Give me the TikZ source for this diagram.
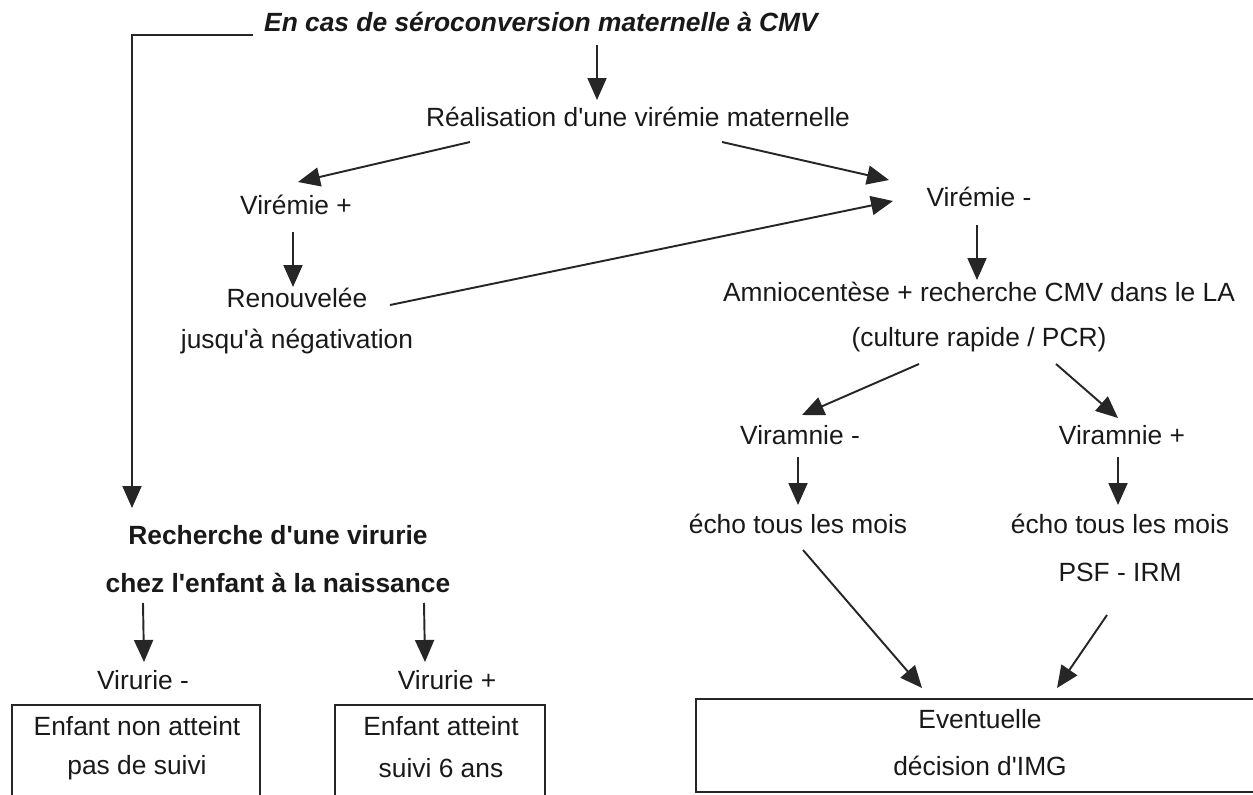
\documentclass[tikz,border=0pt]{standalone}
\usepackage{fontspec}
\setmainfont{Liberation Sans}[Ligatures=TeXOff]
\usetikzlibrary{arrows.meta, positioning}

\tikzset{
  txt/.style={inner sep=0pt, text=black!90, font=\fontsize{15}{18}\selectfont},
  gras/.style={txt, font=\fontsize{15}{18}\selectfont\bfseries},
  fleche/.style={-{Triangle[length=0.44cm, width=0.38cm]}, line width=1.1pt, black!85},
  boite/.style={draw=black!85, line width=1.1pt}
}

\begin{document}
\begin{tikzpicture}[x=0.02cm, y=-0.02cm, node distance=0.96cm]
    \useasboundingbox (0,0) rectangle (1253,794);
    \clip (0,0) rectangle (1253,794);

    % Textes
    \node[gras, font=\fontsize{15}{18}\selectfont\bfseries\itshape] (titre) at (541,22) {En cas de séroconversion maternelle à CMV};
    \node[txt] (real) at (638,117) {Réalisation d'une virémie maternelle};
    \node[txt] (vplus) at (296,205) {Virémie +};
    \node[txt] (vmoins) at (979,197) {Virémie -};
    \node[txt] (renouv) at (297,298) {Renouvelée};
    \node[txt] (jusq) [below of=renouv, node distance=0.88cm] {jusqu'à négativation};
    \node[txt] (amnio) at (979,292) {Amniocentèse + recherche CMV dans le LA};
    \node[txt] (cult) [below of=amnio] {(culture rapide / PCR)};
    \node[txt] (vamoins) at (800,435) {Viramnie -};
    \node[txt] (vaplus) at (1122,435) {Viramnie +};
    \node[txt] (echo1) at (798,524) {écho tous les mois};
    \node[txt] (echo2) at (1120,524) {écho tous les mois};
    \node[txt] (psf) [below of=echo2] {PSF - IRM};
    \node[gras] (rech) at (278,535) {Recherche d'une virurie};
    \node[gras] (chez) [below of=rech] {chez l'enfant à la naissance};
    \node[txt] (vurm) at (143,680) {Virurie -};
    \node[txt] (vurp) at (447,680) {Virurie +};

    % Cadres
    \draw[boite] (12,705) rectangle (260,830);
    \draw[boite] (335,705) rectangle (545,830);
    \draw[boite] (696,699) rectangle (1270,792);
    \node[txt] (nonatt) at (137,726) {Enfant non atteint};
    \node[txt] (pasuivi) [below of=nonatt, node distance=0.84cm] {pas de suivi};
    \node[txt] (atteint) at (441,726) {Enfant atteint};
    \node[txt] (suivi) [below of=atteint, node distance=0.84cm] {suivi 6 ans};
    \node[txt] (ev) at (980,719) {Eventuelle};
    \node[txt] (img) [below of=ev, node distance=0.94cm] {décision d'IMG};

    % Fleches
    \coordinate (coin) at (132,35);
    \draw[fleche] ([shift={(-288,13)}]titre.center) -- (coin) -- ([shift={(-146,-27)}]rech.center);
    \path[fleche] ([shift={(56,23)}]titre.center) edge ([shift={(-41,-17)}]real.center)
          ([shift={(-168,25)}]real.center) edge ([shift={(2,-23)}]vplus.center)
          ([shift={(84,25)}]real.center) edge ([shift={(-90,-17)}]vmoins.center)
          ([shift={(-3,27)}]vplus.center) edge ([shift={(-4,-11)}]renouv.center)
          ([shift={(93,7)}]renouv.center) edge ([shift={(-86,4)}]vmoins.center)
          ([shift={(-2,28)}]vmoins.center) edge ([shift={(-2,-12)}]amnio.center)
          ([shift={(-60,24)}]cult.center) edge ([shift={(2,-20)}]vamoins.center)
          ([shift={(77,24)}]cult.center) edge ([shift={(-4,-17)}]vaplus.center)
          ([shift={(-2,22)}]vamoins.center) edge ([shift={(0,-19)}]echo1.center)
          ([shift={(-4,22)}]vaplus.center) edge ([shift={(-2,-19)}]echo2.center)
          ([shift={(5,26)}]echo1.center) edge ([shift={(-58,-31)}]ev.center)
          ([shift={(-13,43)}]psf.center) edge ([shift={(77,-31)}]ev.center)
          ([shift={(-135,20)}]chez.center) edge ([shift={(1,-18)}]vurm.center)
          ([shift={(146,20)}]chez.center) edge ([shift={(-22,-18)}]vurp.center);
\end{tikzpicture}
\end{document}
